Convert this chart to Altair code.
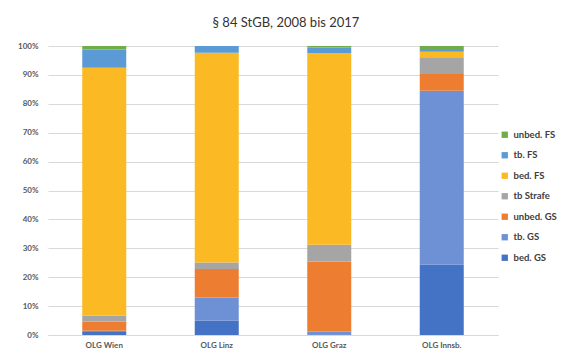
import altair as alt
import pandas as pd

courts = ["OLG Wien", "OLG Linz", "OLG Graz", "OLG Innsb."]
series = ["bed. GS", "tb. GS", "unbed. GS", "tb Strafe", "bed. FS", "tb. FS", "unbed. FS"]
values = {
    "bed. GS":   [1.0, 4.9, 0.3, 24.3],
    "tb. GS":    [0.5, 8.1, 0.9, 60.1],
    "unbed. GS": [3.2, 9.8, 24.2, 5.8],
    "tb Strafe": [2.0, 2.3, 5.8, 5.8],
    "bed. FS":   [85.8, 72.6, 66.3, 1.9],
    "tb. FS":    [6.3, 2.3, 2.0, 0.6],
    "unbed. FS": [1.2, 0.0, 0.5, 1.4],
}
legend_order = ["unbed. FS", "tb. FS", "bed. FS", "tb Strafe", "unbed. GS", "tb. GS", "bed. GS"]
colors = ["#70AD47", "#5B9BD5", "#FBBA24", "#A5A5A5", "#ED7D31", "#6E91D6", "#4472C4"]

rows = []
for si, s in enumerate(series):
    for ci, c in enumerate(courts):
        rows.append({"court": c, "series": s, "value": values[s][ci], "idx": si})
df = pd.DataFrame(rows)

font = "Lato"
chart = alt.Chart(df).mark_bar(size=44).encode(
    x=alt.X("court:N", sort=courts, title=None,
            scale=alt.Scale(paddingInner=0, paddingOuter=0),
            axis=alt.Axis(labelAngle=0, ticks=False, domainColor="#D9D9D9",
                          labelFont=font, labelFontSize=8, labelFontWeight="bold",
                          labelColor="#595959", labelPadding=6)),
    y=alt.Y("value:Q", stack="normalize", title=None,
            scale=alt.Scale(domain=[0, 1]),
            axis=alt.Axis(format=".0%", values=[i / 10 for i in range(11)],
                          domain=False, ticks=False, gridColor="#D9D9D9",
                          labelFont=font, labelFontSize=8, labelFontWeight="bold",
                          labelColor="#595959", labelPadding=10)),
    color=alt.Color("series:N", scale=alt.Scale(domain=legend_order, range=colors),
                    legend=alt.Legend(title=None, orient="none", legendX=452, legendY=84,
                                      symbolType="square", symbolSize=40,
                                      symbolStrokeWidth=0, rowPadding=9.5,
                                      labelFont=font, labelFontSize=9.5,
                                      labelFontWeight="bold", labelColor="#404040")),
    order=alt.Order("idx:Q"),
).properties(
    width=450, height=289,
    title=alt.TitleParams("§ 84 StGB, 2008 bis 2017", font=font, fontSize=13,
                          fontWeight="normal", color="#333333", anchor="middle",
                          dx=13, offset=12),
    autosize=alt.AutoSizeParams(type="none"),
    padding={"left": 48, "top": 46, "right": 75, "bottom": 19},
).configure_view(stroke=None)

chart.save("out.html", embed_options={"renderer": "svg", "actions": False})
